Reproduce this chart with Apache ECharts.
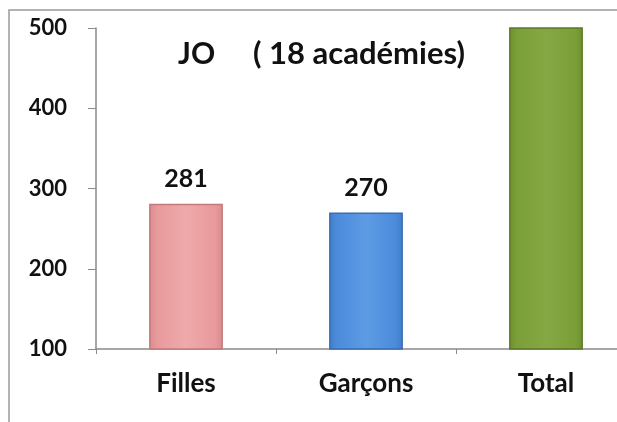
<!DOCTYPE html>
<html><head><meta charset="utf-8">
<script src="https://cdn.jsdelivr.net/npm/echarts@6/dist/echarts.min.js"></script>
<style>html,body{margin:0;padding:0;background:#fff;overflow:hidden}#c{width:617px;height:422px}</style>
</head><body><div id="c"></div>
<script>
const categories = ['Filles', 'Garçons', 'Total'];
const values = [281, 270, 551];
const showLabel = [true, true, false];
const yTicks = [100, 200, 300, 400, 500];

const fills = [
  ['#EFAAAB', '#E8999B', '#DC8A8C'],
  ['#5D9BE4', '#4B8BDA', '#3F7DCC'],
  ['#86A844', '#7A9E38', '#6E9030']
];
const borders = ['#C27A7C', '#3A6DB0', '#5C7A26'];

const chart = echarts.init(document.getElementById('c'));
const font = 'Lato, "Open Sans", sans-serif';
chart.setOption({
  backgroundColor: '#fff',
  animation: false,
  graphic: [{
    type: 'polyline', shape: { points: [[9, 422], [9, 10], [617, 10]] },
    style: { fill: 'none', stroke: '#9a9a9a', lineWidth: 1.5 }, z: -1, silent: true
  }],
  title: [
    { text: 'JO', left: 173, top: 34, textStyle: { fontFamily: font, fontSize: 30, fontWeight: 'bold', color: '#111' } },
    { text: '( 18 académies)', left: 248, top: 33, textStyle: { fontFamily: font, fontSize: 31, fontWeight: 'bold', color: '#111' } }
  ],
  grid: { left: 96, top: 28, width: 540, height: 321, containLabel: false, outerBoundsMode: 'none' },
  xAxis: {
    type: 'category', data: categories,
    axisLine: { lineStyle: { color: '#8a8a8a', width: 1.5 } },
    axisTick: { show: true, length: 5, lineStyle: { color: '#8a8a8a' } },
    axisLabel: { margin: 22, fontFamily: font, fontSize: 26, fontWeight: 'bold', color: '#111' }
  },
  yAxis: {
    type: 'value', min: yTicks[0], max: yTicks[yTicks.length - 1], interval: 100,
    splitLine: { show: false },
    axisLine: { show: true, lineStyle: { color: '#8a8a8a', width: 1.5 } },
    axisTick: { show: true, length: 8, lineStyle: { color: '#8a8a8a' } },
    axisLabel: { margin: 29, fontFamily: font, fontSize: 22, fontWeight: 'bold', color: '#111' }
  },
  series: [{
    type: 'bar', barWidth: '41%', clip: true,
    data: values.map((v, i) => ({
      value: v,
      itemStyle: {
        color: new echarts.graphic.LinearGradient(0, 0, 1, 0, [
          { offset: 0, color: fills[i][2] },
          { offset: 0.1, color: fills[i][1] },
          { offset: 0.5, color: fills[i][0] },
          { offset: 0.9, color: fills[i][1] },
          { offset: 1, color: fills[i][2] }
        ]),
        borderColor: borders[i], borderWidth: 1.5
      },
      label: { show: showLabel[i] }
    })),
    label: {
      position: 'top', distance: 12, fontFamily: font, fontSize: 25, fontWeight: 'bold', color: '#111'
    }
  }]
});
</script></body></html>
